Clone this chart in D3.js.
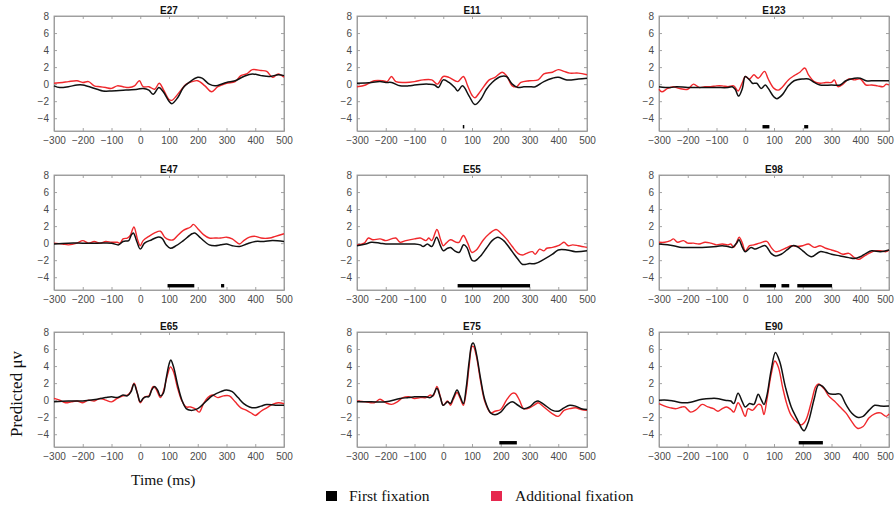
<!DOCTYPE html>
<html>
<head>
<meta charset="utf-8">
<script src="https://cdn.jsdelivr.net/npm/d3@7/dist/d3.min.js"></script>
<style>
  html, body { margin: 0; padding: 0; background: #fff; }
  svg { display: block; }
</style>
</head>
<body>
<svg id="chart" width="896" height="510"></svg>
<script>
// Time axis (ms) and amplitude axis (µV) ticks shared by all electrodes
const xTicks = [-300, -200, -100, 0, 100, 200, 300, 400, 500];
const yTicks = [-4, -2, 0, 2, 4, 6, 8];
const seriesNames = ["First fixation", "Additional fixation"];

// Each series: [time ms, predicted µV]
const e27First = [[-300,-0.2],[-280,-0.4],[-250,-0.3],[-220,-0.1],[-200,-0.1],[-150,-0.6],[-130,-0.8],[-100,-0.8],[-50,-0.7],[-10,-0.6],[10,-0.5],[30,-0.7],[45,-1.2],[65,-0.4],[80,-0.9],[100,-2.0],[110,-2.3],[130,-1.6],[150,-0.4],[170,0.2],[200,0.8],[215,0.7],[240,0.0],[260,-0.2],[300,0.2],[330,0.4],[360,0.9],[390,1.2],[420,1.0],[450,0.9],[480,1.1],[500,1.0]];
const e27Additional = [[-300,0.1],[-270,0.2],[-250,0.3],[-220,0.4],[-200,0.2],[-180,0.3],[-160,-0.2],[-140,-0.3],[-120,-0.4],[-100,-0.5],[-80,-0.2],[-60,-0.3],[-40,-0.4],[-20,-0.2],[-3,0.4],[10,-0.3],[30,-0.3],[50,-0.6],[66,0.1],[80,-0.6],[100,-1.8],[110,-1.9],[130,-1.2],[160,0.0],[180,0.3],[200,0.4],[225,-0.2],[248,-0.9],[270,-0.3],[300,0.1],[330,0.3],[350,1.0],[370,1.2],[390,1.7],[420,1.6],[440,1.5],[460,0.8],[480,1.2],[500,0.8]];
const e27Sig = [];

const e11First = [[-300,0.1],[-250,0.2],[-220,0.3],[-200,0.2],[-180,0.2],[-150,-0.2],[-120,-0.2],[-100,-0.1],[-70,0.0],[-50,0.0],[-30,-0.1],[-17,-0.4],[0,0.5],[20,0.2],[40,-0.4],[50,-0.8],[67,-0.2],[90,-1.4],[110,-2.4],[130,-1.8],[150,-0.6],[170,0.2],[200,0.9],[220,0.9],[240,0.0],[260,-0.4],[280,-0.3],[300,-0.3],[320,-0.3],[350,0.3],[380,0.7],[400,0.8],[430,0.5],[470,0.6],[500,0.7]];
const e11Additional = [[-300,-0.3],[-270,-0.1],[-240,0.4],[-210,0.4],[-195,0.3],[-180,0.9],[-165,0.3],[-130,0.2],[-100,0.3],[-70,0.5],[-40,0.5],[-20,0.0],[0,0.9],[20,0.8],[50,0.3],[70,0.9],[85,-0.2],[100,-1.3],[110,-1.6],[130,-0.8],[160,0.5],[180,0.8],[205,1.4],[220,1.0],[240,-0.2],[255,-0.3],[270,0.2],[300,0.4],[330,0.5],[350,1.2],[380,1.4],[400,1.7],[420,1.5],[440,1.3],[470,1.3],[500,1.1]];
const e11Sig = [[68, 72]];

const e123First = [[-300,-0.3],[-260,-0.4],[-240,-0.3],[-200,-0.4],[-150,-0.4],[-100,-0.4],[-60,-0.4],[-45,-0.3],[-35,-0.6],[-23,-1.4],[-10,-0.5],[0,0.9],[15,0.5],[25,0.1],[40,0.1],[55,-0.5],[70,-0.1],[80,-0.5],[100,-1.5],[110,-1.7],[130,-1.2],[150,-0.2],[170,0.4],[200,0.6],[220,0.6],[240,0.2],[260,-0.1],[300,-0.1],[330,-0.1],[350,0.4],[380,0.7],[400,0.7],[420,0.4],[450,0.4],[500,0.4]];
const e123Additional = [[-300,-0.6],[-290,-0.9],[-270,-0.5],[-250,-0.3],[-230,-0.5],[-200,-0.6],[-180,0.0],[-160,-0.4],[-140,-0.3],[-120,-0.3],[-100,-0.2],[-80,-0.2],[-60,-0.3],[-40,-0.2],[-25,-0.8],[-10,0.2],[0,0.9],[15,0.6],[30,1.1],[45,0.7],[67,1.5],[80,0.6],[100,-0.5],[115,-0.7],[130,-0.3],[150,0.5],[170,1.0],[190,1.4],[207,1.9],[220,1.1],[240,0.3],[260,0.1],[280,0.2],[300,0.2],[310,0.5],[322,-0.3],[340,0.0],[360,0.6],[380,0.5],[400,0.6],[420,-0.1],[440,-0.1],[460,-0.2],[480,-0.3],[490,0.0],[500,-0.1]];
const e123Sig = [[60, 84], [205, 219]];

const e47First = [[-300,-0.1],[-250,0.0],[-200,0.0],[-150,0.0],[-100,0.0],[-75,-0.2],[-60,0.2],[-40,0.3],[-32,0.9],[-24,1.2],[-12,0.2],[0,-0.7],[15,0.0],[40,0.4],[60,0.7],[75,0.6],[90,-0.2],[105,-0.6],[125,-0.3],[150,0.3],[180,1.1],[190,1.2],[210,0.6],[240,-0.2],[260,-0.3],[280,-0.2],[300,-0.1],[320,-0.3],[345,-0.4],[370,-0.1],[400,0.2],[430,0.2],[460,0.3],[500,0.2]];
const e47Additional = [[-300,0.0],[-270,-0.1],[-250,-0.2],[-220,0.0],[-200,0.3],[-180,0.0],[-160,0.2],[-140,0.0],[-120,0.2],[-100,0.1],[-80,0.1],[-70,0.0],[-60,0.5],[-45,0.6],[-35,0.9],[-22,1.9],[-10,0.5],[0,-0.3],[10,0.3],[30,0.8],[50,1.2],[70,1.4],[85,0.7],[100,0.4],[115,0.4],[130,0.9],[150,1.5],[175,1.9],[185,2.2],[200,1.7],[220,1.0],[240,0.6],[260,0.6],[280,0.6],[300,0.7],[320,0.5],[345,-0.1],[360,0.3],[380,0.7],[400,0.8],[420,0.6],[450,0.6],[470,0.8],[500,1.1]];
const e47Sig = [[95, 188], [281, 292]];

const e55First = [[-300,-0.3],[-270,-0.1],[-250,0.1],[-220,0.0],[-200,-0.1],[-150,-0.1],[-100,-0.1],[-80,-0.2],[-70,-0.4],[-55,-0.1],[-40,-0.4],[-23,0.7],[-10,-0.3],[0,-0.9],[15,-0.6],[25,-0.5],[40,-0.9],[55,-1.1],[71,-0.2],[82,-0.5],[100,-2.0],[110,-2.1],[130,-1.5],[150,-0.6],[170,0.3],[190,0.7],[210,0.3],[240,-1.0],[260,-1.9],[276,-2.5],[300,-2.4],[320,-2.4],[350,-1.9],[380,-1.3],[400,-0.8],[430,-0.8],[460,-1.0],[500,-0.9]];
const e55Additional = [[-300,-0.2],[-275,0.0],[-260,0.6],[-245,0.4],[-220,0.5],[-200,0.3],[-180,0.5],[-165,0.6],[-150,0.1],[-130,0.3],[-100,0.5],[-80,0.6],[-60,0.3],[-50,0.6],[-40,0.3],[-22,1.6],[-10,0.5],[0,-0.3],[10,0.0],[25,0.4],[45,0.1],[55,0.1],[70,0.9],[85,0.0],[100,-1.1],[115,-0.8],[140,0.4],[160,1.1],[184,1.6],[200,1.2],[220,0.5],[240,-0.4],[260,-1.2],[275,-1.4],[290,-1.2],[310,-1.0],[320,-1.3],[335,-0.7],[350,-0.9],[360,-0.6],[380,-0.5],[400,-0.3],[410,-0.1],[420,0.1],[435,-0.3],[450,-0.2],[470,-0.3],[500,-0.5]];
const e55Sig = [[50, 302]];

const e98First = [[-300,-0.1],[-270,-0.2],[-250,-0.3],[-220,-0.5],[-200,-0.5],[-150,-0.5],[-100,-0.4],[-80,-0.3],[-60,-0.4],[-45,-0.5],[-30,0.0],[-22,0.4],[-10,-0.5],[0,-1.0],[20,-0.5],[35,-0.7],[50,-0.5],[70,-0.3],[90,-1.2],[105,-1.5],[125,-1.3],[145,-0.8],[165,-0.3],[180,-0.4],[200,-0.9],[230,-1.6],[260,-1.0],[280,-1.1],[300,-1.3],[330,-1.5],[360,-1.7],[380,-1.8],[400,-1.6],[420,-1.2],[440,-0.9],[470,-1.0],[500,-0.8]];
const e98Additional = [[-300,0.1],[-280,0.1],[-260,0.3],[-250,0.5],[-235,0.1],[-215,0.3],[-200,0.0],[-180,0.0],[-160,-0.1],[-140,0.1],[-120,0.0],[-100,-0.2],[-80,-0.1],[-60,-0.2],[-50,-0.1],[-40,-0.5],[-30,0.1],[-21,0.7],[-10,0.0],[0,-0.9],[15,-0.3],[30,-0.2],[50,0.0],[75,0.2],[90,-0.5],[105,-1.0],[120,-0.9],[140,-0.6],[160,-0.3],[180,-0.4],[200,-0.3],[220,-0.1],[240,-0.5],[260,-0.3],[280,-0.6],[300,-0.8],[320,-1.0],[340,-1.3],[360,-1.2],[380,-1.7],[395,-1.9],[410,-1.6],[430,-1.2],[450,-0.9],[470,-0.9],[490,-1.0],[500,-0.8]];
const e98Sig = [[51, 107], [126, 153], [181, 302]];

const e65First = [[-300,-0.2],[-250,-0.1],[-200,-0.1],[-150,0.1],[-120,0.3],[-100,0.4],[-80,0.3],[-60,0.6],[-45,0.5],[-32,1.0],[-22,1.9],[-10,0.8],[0,-0.2],[10,0.2],[20,0.4],[30,0.4],[40,1.2],[50,1.6],[60,1.2],[70,0.5],[80,0.8],[90,2.5],[100,4.2],[106,4.7],[115,4.0],[130,1.8],[145,0.0],[160,-1.0],[175,-1.2],[200,-1.0],[230,-0.1],[250,0.5],[280,1.0],[300,1.2],[320,1.0],[340,0.3],[360,-0.4],[380,-0.8],[400,-0.9],[420,-0.7],[440,-0.5],[470,-0.6],[500,-0.6]];
const e65Additional = [[-300,0.2],[-280,0.0],[-260,-0.3],[-240,-0.2],[-220,-0.1],[-200,-0.3],[-180,0.0],[-160,-0.1],[-140,0.2],[-120,0.0],[-100,-0.2],[-80,0.2],[-60,0.5],[-45,0.6],[-35,0.9],[-21,2.0],[-10,0.8],[0,-0.3],[15,0.4],[30,0.5],[45,1.6],[55,1.3],[70,0.3],[80,1.0],[95,3.0],[105,3.9],[115,3.4],[130,1.4],[145,-0.1],[160,-0.8],[175,-0.8],[190,-1.0],[205,-1.4],[220,-0.4],[235,0.3],[250,0.6],[270,0.3],[290,0.5],[310,0.5],[330,-0.2],[350,-0.9],[370,-1.2],[390,-1.6],[400,-1.8],[420,-1.3],[440,-0.9],[460,-0.5],[480,-0.3],[500,-0.4]];
const e65Sig = [];

const e75First = [[-300,-0.2],[-250,-0.2],[-200,-0.2],[-150,0.2],[-120,0.3],[-100,0.4],[-80,0.4],[-60,0.4],[-45,0.3],[-35,0.6],[-22,1.4],[-10,0.3],[0,-0.6],[15,-0.2],[25,-0.4],[35,0.3],[48,1.2],[58,0.5],[70,-0.4],[80,1.5],[90,4.5],[100,6.6],[105,6.7],[115,5.5],[130,2.5],[145,0.0],[165,-1.5],[180,-1.7],[200,-1.4],[220,-0.6],[240,-0.2],[260,-0.6],[280,-1.0],[300,-0.8],[320,-0.2],[330,-0.1],[350,-0.5],[380,-1.2],[400,-1.3],[420,-0.9],[440,-0.6],[460,-0.7],[480,-1.0],[500,-1.1]];
const e75Additional = [[-300,-0.1],[-270,-0.2],[-240,-0.3],[-220,0.1],[-200,-0.3],[-180,-0.5],[-160,-0.2],[-140,0.3],[-120,0.4],[-100,0.2],[-80,0.3],[-60,0.3],[-45,0.6],[-35,0.5],[-22,1.6],[-10,0.4],[0,-0.6],[15,-0.1],[25,-0.6],[35,0.1],[48,0.9],[58,0.3],[70,-0.6],[80,1.0],[90,4.0],[100,6.3],[105,6.3],[115,5.2],[130,2.2],[145,-0.2],[165,-1.5],[180,-1.3],[200,-1.1],[220,0.0],[240,0.8],[250,0.8],[265,0.0],[280,-1.0],[300,-0.9],[320,-0.5],[330,-0.3],[350,-0.8],[380,-1.6],[400,-1.9],[420,-1.2],[440,-1.0],[460,-0.9],[480,-1.1],[500,-1.2]];
const e75Sig = [[195, 256]];

const e90First = [[-300,0.0],[-270,0.0],[-250,-0.1],[-220,-0.3],[-200,-0.3],[-150,0.1],[-120,0.2],[-100,0.2],[-70,0.0],[-50,-0.1],[-40,-0.4],[-25,0.8],[-10,-0.2],[0,-0.8],[15,-0.4],[30,-0.5],[45,0.7],[55,0.1],[65,-0.5],[75,0.5],[90,3.5],[105,5.6],[120,4.5],[140,1.5],[160,-0.8],[180,-2.2],[198,-3.4],[205,-3.6],[220,-2.5],[240,0.2],[255,1.8],[270,1.6],[290,0.8],[310,0.7],[330,0.7],[350,-0.5],[370,-1.5],[390,-2.0],[410,-1.9],[430,-1.2],[450,-0.6],[470,-0.7],[500,-0.7]];
const e90Additional = [[-300,-0.4],[-280,-0.7],[-260,-0.9],[-240,-1.0],[-220,-0.8],[-210,-0.8],[-190,-1.4],[-170,-1.1],[-150,-0.5],[-130,-0.8],[-110,-1.0],[-95,-1.3],[-80,-1.0],[-65,-0.8],[-50,-1.1],[-40,-1.4],[-25,-0.3],[-15,-0.8],[0,-1.9],[10,-1.0],[25,-1.2],[45,-0.5],[55,-0.6],[65,-1.7],[75,0.0],[90,3.0],[103,4.6],[115,3.9],[130,1.5],[145,-0.5],[160,-1.8],[180,-2.6],[195,-2.9],[210,-2.4],[230,-0.2],[245,1.6],[255,1.9],[275,1.3],[290,0.5],[310,-0.1],[330,-0.8],[350,-1.5],[370,-2.5],[390,-3.3],[410,-3.1],[430,-2.1],[450,-1.6],[470,-1.5],[490,-1.9],[500,-1.6]];
const e90Sig = [[186, 270]];

const electrodes = ["E27", "E11", "E123", "E47", "E55", "E98", "E65", "E75", "E90"];
const firstSeries = [e27First, e11First, e123First, e47First, e55First, e98First, e65First, e75First, e90First];
const additionalSeries = [e27Additional, e11Additional, e123Additional, e47Additional, e55Additional, e98Additional, e65Additional, e75Additional, e90Additional];
const sigWindows = [e27Sig, e11Sig, e123Sig, e47Sig, e55Sig, e98Sig, e65Sig, e75Sig, e90Sig];

// Layout of the 3x3 grid of axes
const colLeft = [54, 357, 659];
const rowTop = [16, 175, 332];
const plotW = 230, plotH = 115;
const firstColor = "#111111";
const addColor = "#f0282c";

const svg = d3.select("#chart");

const x = d3.scaleLinear().domain([-300, 500]).range([0, plotW]);
const y = d3.scaleLinear().domain([-5.5, 8]).range([plotH, 0]);

const line = d3.line()
  .x(d => x(d[0]))
  .y(d => y(d[1]))
  .curve(d3.curveCatmullRom.alpha(0.5));

electrodes.forEach((name, i) => {
  const col = i % 3;
  const g = svg.append("g")
    .attr("transform", `translate(${colLeft[col]},${rowTop[Math.floor(i / 3)]})`);

  // bottom axis, ticks pointing inward
  const xa = g.append("g")
    .attr("transform", `translate(0,${plotH})`)
    .call(d3.axisBottom(x).tickValues(xTicks).tickSizeInner(-3).tickSizeOuter(0).tickPadding(6));
  // keep the last label of the right-hand column inside the page
  if (col === 2) {
    xa.selectAll(".tick text").filter(d => d === 500).attr("dx", -4);
  }
  // left axis
  g.append("g")
    .call(d3.axisLeft(y).tickValues(yTicks).tickSizeInner(-3).tickSizeOuter(0).tickPadding(5));
  // mirrored ticks on top and right
  g.append("g")
    .call(d3.axisTop(x).tickValues(xTicks).tickSizeInner(-3).tickSizeOuter(0).tickFormat(""));
  g.append("g")
    .attr("transform", `translate(${plotW},0)`)
    .call(d3.axisRight(y).tickValues(yTicks).tickSizeInner(-3).tickSizeOuter(0).tickFormat(""));

  g.selectAll(".domain").attr("stroke", "#9a9a9a").attr("stroke-width", 0.9);
  g.selectAll(".tick line").attr("stroke", "#9a9a9a").attr("stroke-width", 0.9);
  g.selectAll(".tick text")
    .attr("fill", "#4a4a4a")
    .attr("font-family", "Liberation Sans, Arial, sans-serif")
    .attr("font-size", 10);

  // box outline
  g.append("rect")
    .attr("width", plotW).attr("height", plotH)
    .attr("fill", "none").attr("stroke", "#9a9a9a").attr("stroke-width", 0.9);

  // electrode title
  g.append("text")
    .attr("x", plotW / 2).attr("y", -2)
    .attr("text-anchor", "middle")
    .attr("font-family", "Liberation Sans, Arial, sans-serif")
    .attr("font-weight", "bold")
    .attr("font-size", 10)
    .attr("fill", "#111")
    .text(name);

  // significant time windows
  g.selectAll("rect.sig")
    .data(sigWindows[i])
    .join("rect")
    .attr("class", "sig")
    .attr("x", d => x(d[0]))
    .attr("width", d => Math.max(1.5, x(d[1]) - x(d[0])))
    .attr("y", y(-4.8))
    .attr("height", y(-5.2) - y(-4.8))
    .attr("fill", "#000");

  g.append("path")
    .datum(additionalSeries[i])
    .attr("d", line)
    .attr("fill", "none")
    .attr("stroke", addColor)
    .attr("stroke-width", 1.4);

  g.append("path")
    .datum(firstSeries[i])
    .attr("d", line)
    .attr("fill", "none")
    .attr("stroke", firstColor)
    .attr("stroke-width", 1.5);
});

// shared axis titles
svg.append("text")
  .attr("transform", "translate(22,394) rotate(-90)")
  .attr("text-anchor", "middle")
  .attr("font-family", "Liberation Serif, Times New Roman, serif")
  .attr("font-size", 17)
  .attr("fill", "#111")
  .text("Predicted μv");

svg.append("text")
  .attr("x", 131).attr("y", 485)
  .attr("font-family", "Liberation Serif, Times New Roman, serif")
  .attr("font-size", 15.5)
  .attr("fill", "#111")
  .text("Time (ms)");

// legend
const legendItems = [
  { name: seriesNames[0], color: "#000000", x: 326, tx: 349 },
  { name: seriesNames[1], color: "#e6284f", x: 491, tx: 515 }
];
const lg = svg.append("g");
legendItems.forEach(it => {
  lg.append("rect")
    .attr("x", it.x).attr("y", 491)
    .attr("width", 11).attr("height", 10)
    .attr("fill", it.color);
  lg.append("text")
    .attr("x", it.tx).attr("y", 501)
    .attr("font-family", "Liberation Serif, Times New Roman, serif")
    .attr("font-size", 15.5)
    .attr("fill", "#111")
    .text(it.name);
});
</script>
</body>
</html>
